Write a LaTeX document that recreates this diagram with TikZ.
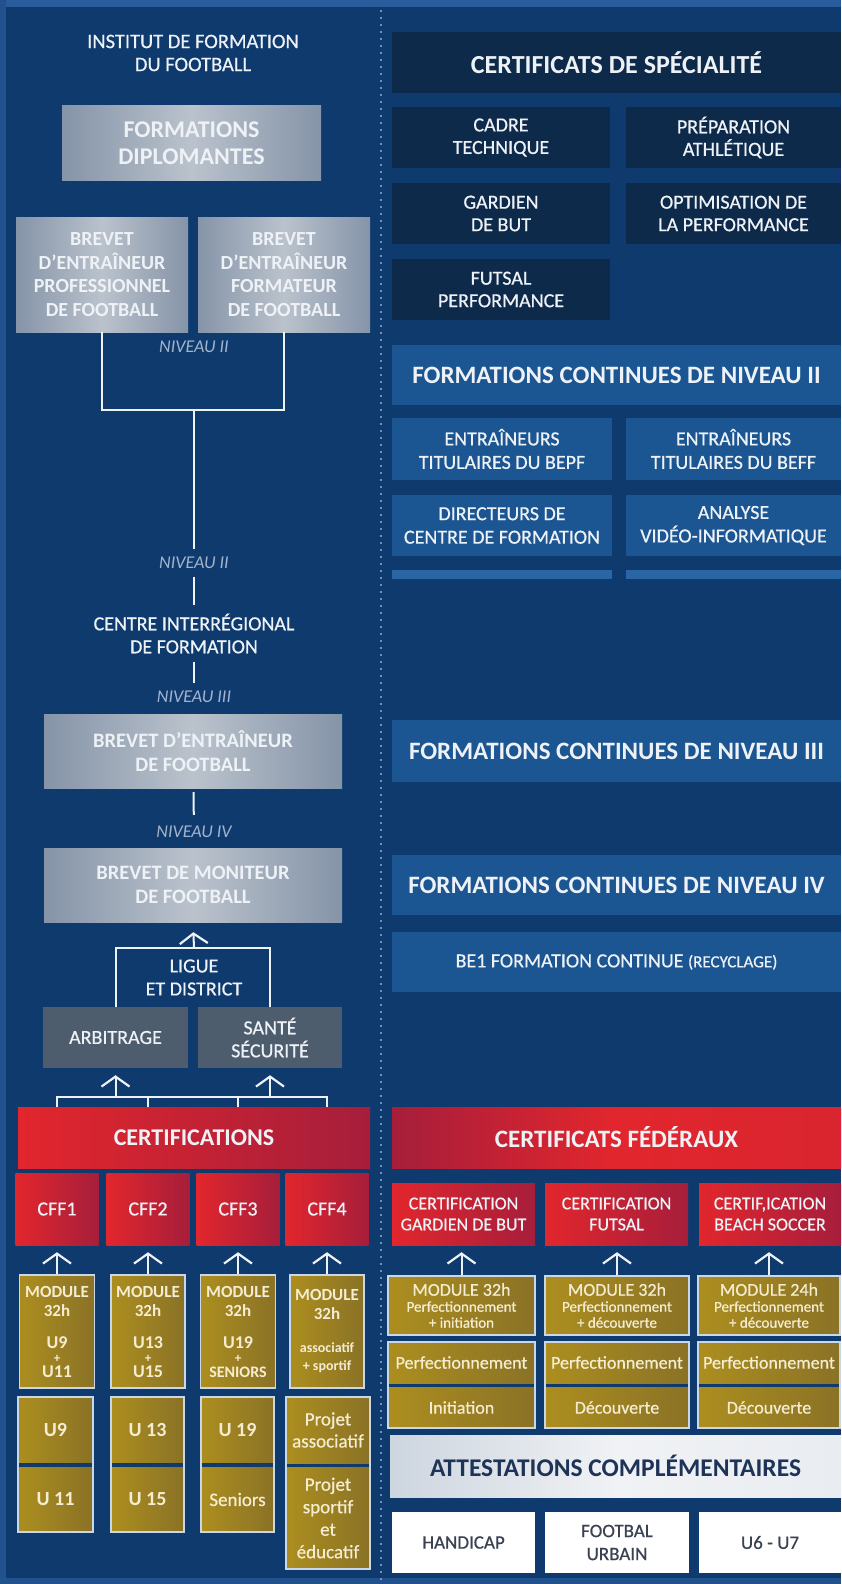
\documentclass[tikz,border=0pt]{standalone}
\usepackage{fontspec}
\setmainfont{Carlito}
\newfontfamily\semi[FakeBold=0.6]{Carlito}
\usetikzlibrary{arrows.meta}

\definecolor{bgnavy}{HTML}{0E3A6E}
\definecolor{bgedge}{HTML}{2A5C9C}
\definecolor{spec}{HTML}{0D2A4B}
\definecolor{cont}{HTML}{1B5692}
\definecolor{contstrip}{HTML}{2A66A3}
\definecolor{slate}{HTML}{4E5D6E}
\definecolor{greyedge}{HTML}{8594A8}
\definecolor{greymid}{HTML}{BAC2CC}
\definecolor{redlight}{HTML}{E2262D}
\definecolor{reddark}{HTML}{A61E3B}
\definecolor{goldlight}{HTML}{AC8E1F}
\definecolor{golddark}{HTML}{8A7226}
\definecolor{goldtext}{HTML}{F5EDD2}
\definecolor{frame}{HTML}{C9D7E6}
\definecolor{txt}{HTML}{EEF2F7}
\definecolor{lvltxt}{HTML}{A3B4CC}
\definecolor{dots}{HTML}{6F93C0}
\definecolor{attl}{HTML}{CDD5DF}
\definecolor{attm}{HTML}{F0F2F5}
\definecolor{atttxt}{HTML}{1D3357}
\definecolor{wtxt}{HTML}{3A4252}

\newcommand{\fsz}[2]{\fontsize{#1}{#2}\selectfont}

\begin{document}
\begin{tikzpicture}[x=1pt, y=-1pt,
    box/.style={inner sep=0pt, align=center, text=txt},
    plain/.style={box, font=\semi\fsz{20}{23}},
    lvl/.style={box, text=lvltxt, font=\itshape\fsz{18}{20}, inner xsep=2pt, inner ysep=8pt},
    greybox/.style={box, left color=greyedge, right color=greyedge, middle color=greymid, font=\bfseries\fsz{20}{23.6}},
    slatebox/.style={box, fill=slate, font=\semi\fsz{20}{23}},
    redbox/.style={box, left color=redlight, right color=reddark, font=\semi\fsz{20}{24}},
    redmid/.style={box, left color=reddark, right color=redlight!85!reddark, middle color=redlight, font=\bfseries\fsz{25}{28}},
    goldbox/.style={box, text=goldtext, left color=goldlight, right color=golddark, font=\bfseries\fsz{17}{19}},
    framed/.style={draw=frame, line width=1.8pt},
    navybox/.style={box, fill=spec, font=\semi\fsz{20}{22.5}},
    bluebox/.style={box, fill=cont, font=\semi\fsz{20}{23.5}},
    whitebox/.style={box, fill=white, text=wtxt, font=\semi\fsz{19}{23}},
    link/.style={draw=txt, line width=2pt},
    caret/.style={link, -{Straight Barb[width=28pt, length=10pt, line width=2.2pt]}, shorten >=7pt}]

    % Background
    \useasboundingbox (0,0) rectangle (841,1584);
    \fill[bgnavy] (0,0) rectangle (841,1584);
    \fill[bgedge] (0,0) rectangle (841,7);
    \fill[bgedge!70!bgnavy] (0,0) rectangle (6,1584);
    \fill[bgedge!70!bgnavy] (0,1578) rectangle (841,1584);
    \draw[dots, line width=2pt, dash pattern=on 2pt off 5pt] (381,10) -- (381,1584);

    % Formations diplomantes (left)
    \node[plain, font=\semi\fsz{20.5}{23}] (iff) at (193,53) {INSTITUT DE FORMATION\\DU FOOTBALL};
    \node[greybox, font=\bfseries\fsz{24}{27}, minimum width=259pt, minimum height=74pt] (diplo) at (191.5,143) {FORMATIONS\\DIPLOMANTES};
    \node[greybox, minimum width=172pt, minimum height=115pt] (bepf) at (102,274.5) {BREVET\\D’ENTRAÎNEUR\\PROFESSIONNEL\\DE FOOTBALL};
    \node[greybox, minimum width=172pt, minimum height=115pt] (beff) at (284,274.5) {BREVET\\D’ENTRAÎNEUR\\FORMATEUR\\DE FOOTBALL};
    \node[lvl] (niv2a) at (194,347) {NIVEAU II};
    \coordinate (j1) at (194,410);
    \node[lvl] (niv2b) at (194,563) {NIVEAU II};
    \node[plain, inner ysep=8pt] (cirf) at (194,633.5) {CENTRE INTERRÉGIONAL\\DE FORMATION};
    \node[lvl] (niv3) at (194,697) {NIVEAU III};
    \node[greybox, font=\bfseries\fsz{20.5}{24.5}, minimum width=298pt, minimum height=74pt] (bef) at (193,751) {BREVET D’ENTRAÎNEUR\\DE FOOTBALL};
    \node[lvl] (niv4) at (194,832) {NIVEAU IV};
    \node[greybox, font=\bfseries\fsz{20.5}{24.5}, minimum width=298pt, minimum height=74pt] (bmf) at (193,885) {BREVET DE MONITEUR\\DE FOOTBALL};

    \draw[link] (bepf.south) |- (j1) -| (beff.south);
    \draw[link] (j1) -- (niv2b);
    \draw[link] (niv2b) -- (cirf);
    \draw[link] (cirf) -- (niv3);
    \draw[link, shorten <=4pt, shorten >=3pt] (bef) -- (niv4);

    % Ligue et district
    \coordinate (j2) at (194,948);
    \node[plain] (ligue) at (194,977.5) {LIGUE\\ET DISTRICT};
    \node[slatebox, minimum width=145pt, minimum height=61pt] (arbit) at (115.5,1037.5) {ARBITRAGE};
    \node[slatebox, minimum width=144pt, minimum height=61pt] (sante) at (270,1037.5) {SANTÉ\\SÉCURITÉ};
    \draw[link] (arbit.north) |- (j2) -| (sante.north);
    \draw[caret, shorten >=10pt] (j2) -- (bmf.south);

    % Certifications
    \coordinate (j3) at (194,1097);
    \node[redbox, font=\bfseries\fsz{24}{28}, minimum width=352pt, minimum height=61pt] (certif) at (194,1137.5) {CERTIFICATIONS};
    \foreach \i/\x in {1/57,2/148,3/238,4/327}
        \node[redbox, minimum width=83pt, minimum height=72pt] (cff\i) at (\x,1209) {CFF\i};
    \draw[link] (cff1 |- certif.north) -- (cff1 |- j3) -- (cff4 |- j3) -- (cff4 |- certif.north);
    \foreach \c in {cff2,cff3} \draw[link] (\c |- certif.north) -- (\c |- j3);
    \draw[caret] (arbit |- j3) -- (arbit.south);
    \draw[caret] (sante |- j3) -- (sante.south);

    % Modules 32h
    \node[goldbox, framed, minimum width=75pt, minimum height=113pt] (mod1) at (57,1331.5) {MODULE\\32h\\[13pt]{\fsz{18}{19}U9}\\[-5pt]{\fsz{13}{19}+}\\[-4pt]{\fsz{18}{19}U11}};
    \node[goldbox, framed, minimum width=74pt, minimum height=113pt] (mod2) at (148,1331.5) {MODULE\\32h\\[13pt]{\fsz{18}{19}U13}\\[-5pt]{\fsz{13}{19}+}\\[-4pt]{\fsz{18}{19}U15}};
    \node[goldbox, framed, minimum width=75pt, minimum height=113pt] (mod3) at (238,1331.5) {MODULE\\32h\\[13pt]{\fsz{18}{19}U19}\\[-5pt]{\fsz{13}{19}+}\\[-4pt]{\fsz{16}{19}SENIORS}};
    \node[goldbox, framed, minimum width=74pt, minimum height=113pt] (mod4) at (327,1331.5) {MODULE\\32h\\[14pt]{\fsz{14}{16}associatif}\\[-1pt]{\fsz{14}{16}+ sportif}};
    \foreach \i in {1,...,4} \draw[caret] (mod\i.north) -- (mod\i.north |- cff\i.south);

    % Categories
    \node[goldbox, font=\bfseries\fsz{20}{22}, minimum width=75pt, minimum height=65pt] (u9) at (55.5,1429.5) {U9};
    \node[goldbox, font=\bfseries\fsz{20}{22}, minimum width=75pt, minimum height=65pt] (u11) at (55.5,1499.5) {U 11};
    \node[goldbox, font=\bfseries\fsz{20}{22}, minimum width=73pt, minimum height=65pt] (u13) at (147.5,1429.5) {U 13};
    \node[goldbox, font=\bfseries\fsz{20}{22}, minimum width=73pt, minimum height=65pt] (u15) at (147.5,1499.5) {U 15};
    \node[goldbox, font=\bfseries\fsz{20}{22}, minimum width=73pt, minimum height=65pt] (u19) at (237.5,1429.5) {U 19};
    \node[goldbox, font=\semi\fsz{19}{22}, minimum width=73pt, minimum height=65pt] (sen) at (237.5,1499.5) {Seniors};
    \node[goldbox, font=\semi\fsz{19}{22}, minimum width=84pt, minimum height=66pt] (pasoc) at (328,1430) {Projet\\associatif};
    \node[goldbox, font=\semi\fsz{19}{22.5}, minimum width=84pt, minimum height=102pt] (psport) at (328,1518) {Projet\\sportif\\et\\éducatif};
    \foreach \a/\b in {u9/u11,u13/u15,u19/sen,pasoc/psport}
        \draw[framed] (\a.north west) rectangle (\b.south east);

    % Certificats de specialite (right)
    \node[navybox, font=\bfseries\fsz{26}{28}, minimum width=449pt, minimum height=61pt] (spec) at (616.5,62.5) {CERTIFICATS DE SPÉCIALITÉ};
    \node[navybox, minimum width=218pt, minimum height=61pt] (cadre) at (501,137.5) {CADRE\\TECHNIQUE};
    \node[navybox, minimum width=215pt, minimum height=61pt] (prep) at (733.5,137.5) {PRÉPARATION\\ATHLÉTIQUE};
    \node[navybox, minimum width=218pt, minimum height=61pt] (gard) at (501,213.5) {GARDIEN\\DE BUT};
    \node[navybox, minimum width=215pt, minimum height=61pt] (optim) at (733.5,213.5) {OPTIMISATION DE\\LA PERFORMANCE};
    \node[navybox, minimum width=218pt, minimum height=61pt] (futsal) at (501,289.5) {FUTSAL\\PERFORMANCE};

    % Formations continues
    \node[bluebox, font=\bfseries\fsz{25}{28}, minimum width=449pt, minimum height=60pt] (fc2) at (616.5,375) {FORMATIONS CONTINUES DE NIVEAU II};
    \node[bluebox, minimum width=220pt, minimum height=62pt] (tbepf) at (502,449) {ENTRAÎNEURS\\TITULAIRES DU BEPF};
    \node[bluebox, minimum width=215pt, minimum height=62pt] (tbeff) at (733.5,449) {ENTRAÎNEURS\\TITULAIRES DU BEFF};
    \node[bluebox, minimum width=220pt, minimum height=61pt] (dcf) at (502,525.5) {DIRECTEURS DE\\CENTRE DE FORMATION};
    \node[bluebox, minimum width=215pt, minimum height=61pt] (video) at (733.5,525.5) {ANALYSE\\VIDÉO-INFORMATIQUE};
    \fill[contstrip] (392,570) rectangle (612,579);
    \fill[contstrip] (626,570) rectangle (841,579);
    \node[bluebox, font=\bfseries\fsz{25}{28}, minimum width=449pt, minimum height=62pt] (fc3) at (616.5,751) {FORMATIONS CONTINUES DE NIVEAU III};
    \node[bluebox, font=\bfseries\fsz{25}{28}, minimum width=449pt, minimum height=60pt] (fc4) at (616.5,885) {FORMATIONS CONTINUES DE NIVEAU IV};
    \node[bluebox, minimum width=449pt, minimum height=60pt] (be1) at (616.5,962) {BE1 FORMATION CONTINUE {\fsz{17}{20}(RECYCLAGE)}};

    % Certificats federaux
    \node[redmid, minimum width=449pt, minimum height=61pt] (cfed) at (616.5,1137.5) {CERTIFICATS FÉDÉRAUX};
    \node[redbox, font=\semi\fsz{18}{21}, minimum width=143pt, minimum height=62pt] (cgb) at (463.5,1214) {CERTIFICATION\\GARDIEN DE BUT};
    \node[redbox, font=\semi\fsz{18}{21}, minimum width=143pt, minimum height=62pt] (cfut) at (616.5,1214) {CERTIFICATION\\FUTSAL};
    \node[redbox, font=\semi\fsz{18}{21}, minimum width=142pt, minimum height=62pt] (cbs) at (770,1214) {CERTIF,ICATION\\BEACH SOCCER};

    \node[goldbox, framed, font=\semi\fsz{15}{16}, minimum width=147pt, minimum height=59pt] (rm1) at (461.5,1305.5) {{\fsz{18}{16}MODULE 32h}\\Perfectionnement\\+ initiation};
    \node[goldbox, framed, font=\semi\fsz{15}{16}, minimum width=144pt, minimum height=59pt] (rm2) at (617,1305.5) {{\fsz{18}{16}MODULE 32h}\\Perfectionnement\\+ découverte};
    \node[goldbox, framed, font=\semi\fsz{15}{16}, minimum width=142pt, minimum height=59pt] (rm3) at (769,1305.5) {{\fsz{18}{16}MODULE 24h}\\Perfectionnement\\+ découverte};
    \foreach \m/\c in {rm1/cgb,rm2/cfut,rm3/cbs} \draw[caret] (\m.north) -- (\m.north |- \c.south);

    \node[goldbox, font=\semi\fsz{18}{21}, minimum width=147pt, minimum height=41pt] (perf1) at (461.5,1362.5) {Perfectionnement};
    \node[goldbox, font=\semi\fsz{18}{21}, minimum width=147pt, minimum height=41pt] (init1) at (461.5,1407.5) {Initiation};
    \node[goldbox, font=\semi\fsz{18}{21}, minimum width=144pt, minimum height=41pt] (perf2) at (617,1362.5) {Perfectionnement};
    \node[goldbox, font=\semi\fsz{18}{21}, minimum width=144pt, minimum height=41pt] (dec2) at (617,1407.5) {Découverte};
    \node[goldbox, font=\semi\fsz{18}{21}, minimum width=142pt, minimum height=41pt] (perf3) at (769,1362.5) {Perfectionnement};
    \node[goldbox, font=\semi\fsz{18}{21}, minimum width=142pt, minimum height=41pt] (dec3) at (769,1407.5) {Découverte};
    \foreach \a/\b in {perf1/init1,perf2/dec2,perf3/dec3}
        \draw[framed] (\a.north west) rectangle (\b.south east);

    % Attestations
    \node[box, text=atttxt, left color=attl, right color=attm!80!attl, middle color=attm, font=\bfseries\fsz{25.5}{28}, minimum width=451pt, minimum height=62pt] (attest) at (615.5,1466) {ATTESTATIONS COMPLÉMENTAIRES};
    \node[whitebox, minimum width=143pt, minimum height=61pt] (handi) at (463.5,1542.5) {HANDICAP};
    \node[whitebox, minimum width=144pt, minimum height=61pt] (urbain) at (617,1542.5) {FOOTBAL\\URBAIN};
    \node[whitebox, minimum width=142pt, minimum height=61pt] (u67) at (770,1542.5) {U6 - U7};
\end{tikzpicture}
\end{document}
